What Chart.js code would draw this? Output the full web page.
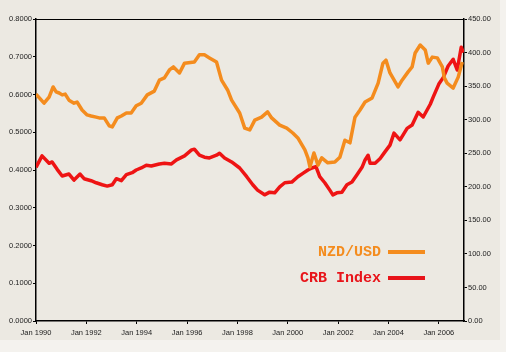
<!DOCTYPE html>
<html>
<head>
<meta charset="utf-8">
<script src="https://cdn.jsdelivr.net/npm/chart.js@4/dist/chart.umd.min.js"></script>
<style>
  html, body { margin: 0; padding: 0; background: #f4f2ee; }
  #wrap { position: absolute; left: 0; top: 0; width: 500px; height: 340px; background: #ece9e2; }
</style>
</head>
<body>
<div id="wrap"><canvas id="myChart" width="500" height="340"></canvas></div>
<script>
// NZD/USD exchange rate vs CRB commodity index, 1990-2006

const nzdYears = [1990.00, 1990.32, 1990.52, 1990.68, 1990.80, 1990.92, 1991.04, 1991.16, 1991.31, 1991.51,
  1991.63, 1991.83, 1992.03, 1992.19, 1992.39, 1992.51, 1992.71, 1992.91, 1993.03, 1993.23,
  1993.39, 1993.59, 1993.78, 1993.98, 1994.18, 1994.42, 1994.70, 1994.90, 1995.10, 1995.30,
  1995.46, 1995.70, 1995.90, 1996.29, 1996.49, 1996.69, 1996.89, 1997.17, 1997.37, 1997.61,
  1997.77, 1998.09, 1998.29, 1998.49, 1998.69, 1998.96, 1999.20, 1999.36, 1999.68, 1999.96,
  2000.20, 2000.40, 2000.68, 2000.80, 2000.88, 2001.04, 2001.20, 2001.35, 2001.59, 2001.87,
  2002.07, 2002.27, 2002.47, 2002.67, 2002.87, 2003.07, 2003.35, 2003.59, 2003.78, 2003.90,
  2004.06, 2004.38, 2004.54, 2004.78, 2004.94, 2005.06, 2005.26, 2005.46, 2005.58, 2005.74,
  2005.94, 2006.14, 2006.22, 2006.33, 2006.57, 2006.77, 2006.93];
const nzdValues = [0.601, 0.577, 0.593, 0.620, 0.607, 0.604, 0.599, 0.601, 0.585, 0.577,
  0.580, 0.559, 0.546, 0.543, 0.540, 0.538, 0.538, 0.517, 0.514, 0.538,
  0.543, 0.551, 0.551, 0.570, 0.577, 0.599, 0.609, 0.638, 0.644, 0.665,
  0.673, 0.657, 0.683, 0.686, 0.705, 0.705, 0.697, 0.686, 0.638, 0.612,
  0.585, 0.551, 0.511, 0.506, 0.532, 0.540, 0.554, 0.538, 0.519, 0.511,
  0.498, 0.485, 0.453, 0.432, 0.408, 0.445, 0.413, 0.432, 0.419, 0.421,
  0.434, 0.479, 0.472, 0.540, 0.559, 0.580, 0.591, 0.630, 0.683, 0.691,
  0.657, 0.620, 0.638, 0.660, 0.673, 0.710, 0.731, 0.718, 0.683, 0.699,
  0.697, 0.673, 0.644, 0.630, 0.617, 0.646, 0.686];

const crbYears = [1990.00, 1990.24, 1990.52, 1990.64, 1990.84, 1991.04, 1991.31, 1991.51, 1991.75, 1991.91,
  1992.19, 1992.39, 1992.63, 1992.83, 1993.03, 1993.19, 1993.39, 1993.59, 1993.82, 1993.98,
  1994.18, 1994.38, 1994.58, 1994.90, 1995.10, 1995.38, 1995.58, 1995.90, 1996.18, 1996.29,
  1996.49, 1996.69, 1996.89, 1997.17, 1997.29, 1997.49, 1997.77, 1998.09, 1998.37, 1998.61,
  1998.80, 1999.08, 1999.28, 1999.48, 1999.68, 1999.88, 2000.16, 2000.40, 2000.60, 2000.80,
  2000.96, 2001.12, 2001.27, 2001.47, 2001.67, 2001.79, 2001.95, 2002.15, 2002.35, 2002.55,
  2002.75, 2002.95, 2003.07, 2003.19, 2003.27, 2003.47, 2003.67, 2003.86, 2004.06, 2004.22,
  2004.46, 2004.74, 2004.94, 2005.18, 2005.38, 2005.66, 2005.78, 2006.00, 2006.18, 2006.37,
  2006.57, 2006.73, 2006.89, 2006.97];
const crbValues = [229, 246, 235, 237, 226, 216, 219, 210, 219, 212,
  209, 206, 203, 201, 203, 212, 209, 218, 221, 225,
  228, 232, 231, 234, 235, 234, 240, 246, 255, 256,
  247, 244, 243, 247, 250, 243, 237, 228, 215, 203,
  195, 188, 192, 191, 200, 206, 207, 215, 220, 225,
  228, 230, 215, 206, 195, 188, 191, 192, 203, 207,
  218, 229, 240, 247, 235, 235, 242, 252, 262, 280,
  270, 287, 292, 311, 304, 323, 334, 353, 363, 380,
  390, 374, 408, 400];

const xTickYears = [1990, 1992, 1994, 1996, 1998, 2000, 2002, 2004, 2006];

const tickFont = { family: '"Liberation Sans", Arial, sans-serif', size: 7.5 };

// frame line along the top of the plot
const framePlugin = {
  id: 'frame',
  beforeDatasetsDraw(chart) {
    const a = chart.chartArea;
    const ctx = chart.ctx;
    ctx.save();
    ctx.strokeStyle = '#000';
    ctx.lineWidth = 1;
    ctx.beginPath();
    ctx.moveTo(a.left, a.top + 0.5);
    ctx.lineTo(a.right, a.top + 0.5);
    ctx.stroke();
    ctx.restore();
  }
};

// legend drawn as text followed by a line sample
const legendPlugin = {
  id: 'sideLegend',
  afterDraw(chart) {
    const ctx = chart.ctx;
    const items = [
      { text: 'NZD/USD', color: '#f48c1e', y: 252 },
      { text: 'CRB Index', color: '#e8141a', y: 278 }
    ];
    ctx.save();
    ctx.font = 'bold 15px "Liberation Mono", "Courier New", monospace';
    ctx.textAlign = 'right';
    ctx.textBaseline = 'middle';
    items.forEach(it => {
      ctx.fillStyle = it.color;
      ctx.fillText(it.text, 381, it.y);
      ctx.strokeStyle = it.color;
      ctx.lineWidth = 4;
      ctx.beginPath();
      ctx.moveTo(388, it.y);
      ctx.lineTo(425, it.y);
      ctx.stroke();
    });
    ctx.restore();
  }
};

new Chart("myChart", {
  type: "line",
  data: {
    datasets: [{
      label: 'NZD/USD',
      data: nzdYears.map((x, i) => ({ x: x, y: nzdValues[i] })),
      borderColor: '#f48c1e',
      borderWidth: 3.5,
      pointRadius: 0,
      tension: 0,
      borderJoinStyle: 'round',
      yAxisID: 'y'
    }, {
      label: 'CRB Index',
      data: crbYears.map((x, i) => ({ x: x, y: crbValues[i] })),
      borderColor: '#ee1414',
      borderWidth: 3.5,
      pointRadius: 0,
      tension: 0,
      borderJoinStyle: 'round',
      yAxisID: 'y1'
    }]
  },
  options: {
    responsive: false,
    animation: false,
    layout: { padding: { top: 19, left: 0, right: 0, bottom: 0 } },
    plugins: {
      legend: { display: false },
      tooltip: { enabled: false }
    },
    scales: {
      x: {
        type: 'linear',
        min: 1990,
        max: 2007,
        afterBuildTicks: s => { s.ticks = xTickYears.map(v => ({ value: v })); },
        afterFit: s => { s.height = 19; },
        grid: { drawOnChartArea: false, tickLength: 3, color: '#000' },
        border: { color: '#000', width: 1.5 },
        ticks: { font: tickFont, color: '#222', padding: 4, maxRotation: 0,
          callback: v => 'Jan ' + v }
      },
      y: {
        position: 'left',
        min: 0,
        max: 0.8,
        afterFit: s => { s.width = 36; },
        grid: { drawOnChartArea: false, tickLength: 3, color: '#000' },
        border: { color: '#000', width: 1.5 },
        ticks: { stepSize: 0.1, font: tickFont, color: '#222', padding: 1,
          callback: v => v.toFixed(4) }
      },
      y1: {
        position: 'right',
        min: 0,
        max: 450,
        afterFit: s => { s.width = 36; },
        grid: { drawOnChartArea: false, tickLength: 3, color: '#000' },
        border: { color: '#000', width: 1.5 },
        ticks: { stepSize: 50, font: tickFont, color: '#222', padding: 1,
          callback: v => v.toFixed(2) }
      }
    }
  },
  plugins: [framePlugin, legendPlugin]
});
</script>
</body>
</html>
